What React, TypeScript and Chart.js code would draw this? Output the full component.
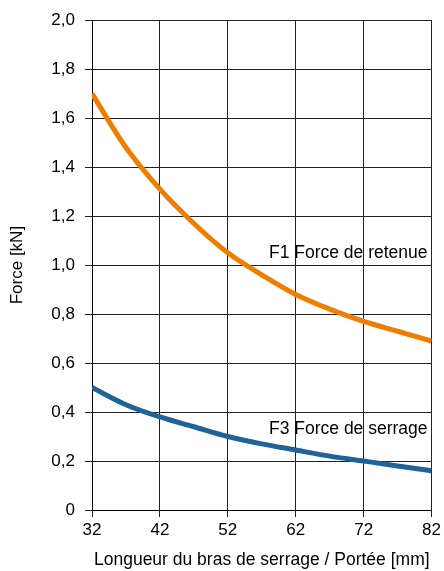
import React, { useEffect, useRef } from "react";
import { Chart, registerables } from "chart.js";

Chart.register(...registerables);

const lengths = [32, 37, 42, 47, 52, 57, 62, 67, 72, 77, 82];
const f1Values = [1.70, 1.48, 1.31, 1.17, 1.05, 0.96, 0.88, 0.82, 0.77, 0.73, 0.69];
const f3Values = [0.50, 0.43, 0.38, 0.34, 0.30, 0.27, 0.245, 0.22, 0.20, 0.18, 0.16];
const f1Label = "F1 Force de retenue";
const f3Label = "F3 Force de serrage";
const f1LabelAt = { x: 82, y: 1.05 };
const f3LabelAt = { x: 82, y: 0.33 };
const xTitle = "Longueur du bras de serrage / Portée [mm]";
const yTitle = "Force [kN]";

const FONT = "'Liberation Sans', Arial, Helvetica, sans-serif";
const ORANGE = "#ef7d00";
const BLUE = "#1f6399";

const labelPlugin = {
  id: "curveLabels",
  afterDatasetsDraw(chart: any) {
    const { ctx, scales } = chart;
    const xs = scales.x;
    const ys = scales.y;
    ctx.save();
    ctx.font = `17.5px ${FONT}`;
    ctx.fillStyle = "#000";
    ctx.textAlign = "right";
    ctx.textBaseline = "middle";
    const items = [
      { t: f1Label, p: f1LabelAt },
      { t: f3Label, p: f3LabelAt },
    ];
    for (const it of items) {
      const px = xs.getPixelForValue(it.p.x) - 4;
      const py = ys.getPixelForValue(it.p.y);
      ctx.fillText(it.t, px, py);
    }
    ctx.restore();
  },
};

export default function App() {
  const ref = useRef<HTMLCanvasElement>(null);
  useEffect(() => {
    if (!ref.current) return;
    const chart = new Chart(ref.current, {
      type: "line",
      data: {
        datasets: [
          {
            label: f1Label,
            data: lengths.map((x, i) => ({ x, y: f1Values[i] })),
            borderColor: ORANGE,
            borderWidth: 5,
            pointRadius: 0,
            cubicInterpolationMode: "monotone",
            fill: false,
          },
          {
            label: f3Label,
            data: lengths.map((x, i) => ({ x, y: f3Values[i] })),
            borderColor: BLUE,
            borderWidth: 5,
            pointRadius: 0,
            cubicInterpolationMode: "monotone",
            fill: false,
          },
        ],
      },
      options: {
        responsive: false,
        animation: false,
        layout: { padding: { left: 0, top: 19, right: 11, bottom: 0 } },
        plugins: {
          legend: { display: false },
          tooltip: { enabled: false },
        },
        scales: {
          x: {
            type: "linear",
            min: 32,
            max: 82,
            afterFit: (s: any) => {
              s.height = 61;
            },
            ticks: {
              stepSize: 10,
              color: "#000",
              font: { family: FONT, size: 17 },
              padding: 3,
              callback: (v: any) => String(v),
            },
            grid: {
              color: "#222",
              lineWidth: 1,
              tickLength: 7,
              drawTicks: true,
            },
            border: { color: "#000", width: 1 },
            title: {
              display: true,
              text: xTitle,
              color: "#000",
              font: { family: FONT, size: 17.5 },
              padding: { top: 3, bottom: 0 },
            },
          },
          y: {
            type: "linear",
            min: 0,
            max: 2,
            afterFit: (s: any) => {
              s.width = 92;
            },
            ticks: {
              stepSize: 0.2,
              color: "#000",
              font: { family: FONT, size: 17 },
              padding: 10,
              callback: (v: any) =>
                Math.abs(v) < 1e-9 ? "0" : Number(v).toFixed(1).replace(".", ","),
            },
            grid: {
              color: "#222",
              lineWidth: 1,
              tickLength: 7,
            },
            border: { color: "#000", width: 1 },
            title: {
              display: true,
              text: yTitle,
              color: "#000",
              font: { family: FONT, size: 17 },
              padding: { top: 7, bottom: 0 },
            },
          },
        },
      },
      plugins: [labelPlugin],
    } as any);
    return () => chart.destroy();
  }, []);
  return (
    <canvas
      ref={ref}
      width={444}
      height={571}
      style={{ position: "absolute", left: 0, top: 0, width: 444, height: 571, display: "block" }}
    />
  );
}
